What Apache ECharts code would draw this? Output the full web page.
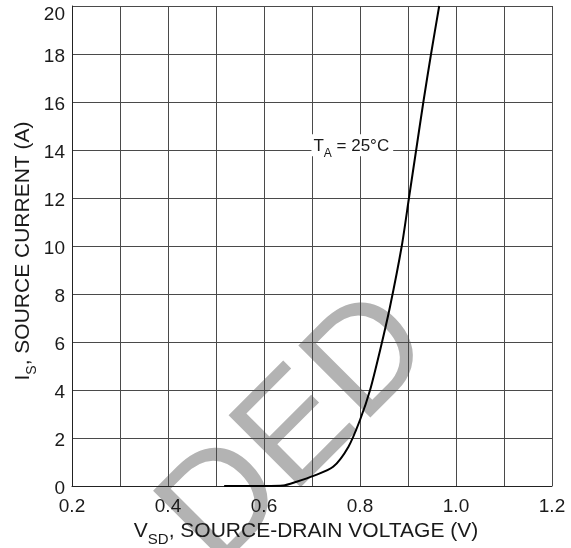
<!DOCTYPE html>
<html>
<head>
<meta charset="utf-8">
<script src="https://cdn.jsdelivr.net/npm/echarts@6/dist/echarts.min.js"></script>
<style>
  html, body { margin: 0; padding: 0; background: #fff; }
  #chart { width: 571px; height: 548px; }
</style>
</head>
<body>
<div id="chart"></div>
<script>
// Source current vs source-drain voltage
const vsd = [0.517, 0.60, 0.64, 0.668, 0.703, 0.744, 0.776, 0.80, 0.821, 0.842, 0.8625, 0.887, 0.902, 0.917, 0.932, 0.948, 0.965];
const isrc = [0, 0, 0.02, 0.18, 0.42, 0.8, 1.64, 2.75, 4.0, 5.67, 7.47, 10, 12, 14, 16, 18, 20];
const xTickLabels = ['0.2', '0.4', '0.6', '0.8', '1.0', '1.2'];
const yTickLabels = ['0', '2', '4', '6', '8', '10', '12', '14', '16', '18', '20'];
const annotationPos = [0.784, 14.2];
const watermarkText = 'DED';

const FONT = '"Liberation Sans", Arial, sans-serif';
const chart = echarts.init(document.getElementById('chart'), null, { renderer: 'canvas' });

const option = {
  backgroundColor: '#ffffff',
  animation: false,
  graphic: [{
    type: 'text',
    x: 298, y: 432,
    rotation: Math.PI / 4,
    z: -10,
    silent: true,
    style: {
      text: watermarkText,
      font: '148px ' + FONT,
      fill: '#b3b3b3',
      align: 'center', verticalAlign: 'middle',
      textAlign: 'center', textVerticalAlign: 'middle'
    }
  }],
  grid: { left: 72, right: 19, top: 6, bottom: 62, containLabel: false, outerBoundsMode: 'none' },
  xAxis: {
    type: 'value', min: 0.2, max: 1.2, interval: 0.1,
    name: '{a|V}{b|SD}{a|, SOURCE-DRAIN VOLTAGE (V)}',
    nameLocation: 'middle', nameGap: 31,
    nameTextStyle: {
      padding: [0, 12, 0, 0],
      rich: {
        a: { fontFamily: FONT, fontSize: 21, color: '#1a1a1a', lineHeight: 24, verticalAlign: 'bottom' },
        b: { fontFamily: FONT, fontSize: 15, color: '#1a1a1a', lineHeight: 24, verticalAlign: 'bottom', padding: [0, 0, -5, 0] }
      }
    },
    axisLine: { show: true, lineStyle: { color: '#222', width: 1 } },
    axisTick: { show: false },
    splitLine: { show: true, lineStyle: { color: '#4a4a4a', width: 1 } },
    axisLabel: {
      fontFamily: FONT, fontSize: 19, color: '#1a1a1a', margin: 11,
      formatter: v => {
        const s = v.toFixed(1);
        return xTickLabels.indexOf(s) >= 0 ? s : '';
      }
    }
  },
  yAxis: {
    type: 'value', min: 0, max: 20, interval: 2,
    name: '{a|I}{b|S}{a|, SOURCE CURRENT (A)}',
    nameLocation: 'middle', nameGap: 38, nameRotate: 90,
    nameMoveOverlap: false,
    nameTextStyle: {
      padding: [0, 10, 0, 0],
      rich: {
        a: { fontFamily: FONT, fontSize: 21, color: '#1a1a1a', lineHeight: 24, verticalAlign: 'bottom' },
        b: { fontFamily: FONT, fontSize: 14, color: '#1a1a1a', lineHeight: 24, verticalAlign: 'bottom', padding: [0, 0, -5, 0] }
      }
    },
    axisLine: { show: true, lineStyle: { color: '#222', width: 1 } },
    axisTick: { show: false },
    splitLine: { show: true, lineStyle: { color: '#4a4a4a', width: 1 } },
    axisLabel: {
      fontFamily: FONT, fontSize: 19, color: '#1a1a1a', margin: 7,
      padding: [5, 0, 0, 0],
      formatter: v => {
        const s = String(Math.round(v));
        if (yTickLabels.indexOf(s) < 0) return '';
        return s === yTickLabels[yTickLabels.length - 1] ? '{top|' + s + '}' : s;
      },
      rich: {
        top: { fontFamily: FONT, fontSize: 19, color: '#1a1a1a', padding: [12, 0, 0, 0] }
      }
    }
  },
  series: [{
    type: 'line',
    data: vsd.map((v, i) => [v, isrc[i]]),
    showSymbol: false,
    smooth: 0.25,
    lineStyle: { color: '#000', width: 2 },
    z: 3,
    markPoint: {
      symbol: 'rect', symbolSize: 1,
      itemStyle: { color: 'rgba(0,0,0,0)' },
      data: [{ coord: annotationPos }],
      label: {
        show: true, position: 'inside',
        backgroundColor: '#ffffff', padding: [1, 4, 1, 2],
        formatter: '{t|T}{s|A}{t| = 25°C}',
        rich: {
          t: { fontFamily: FONT, fontSize: 17, color: '#1a1a1a', lineHeight: 20, verticalAlign: 'bottom' },
          s: { fontFamily: FONT, fontSize: 12, color: '#1a1a1a', lineHeight: 20, verticalAlign: 'bottom', padding: [0, 0, -4, 0] }
        }
      }
    }
  }]
};
chart.setOption(option);
</script>
</body>
</html>
